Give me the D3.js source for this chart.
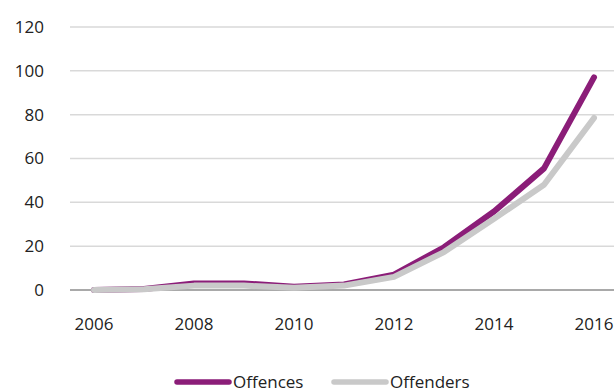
<!DOCTYPE html>
<html>
<head>
<meta charset="utf-8">
<script src="https://cdn.jsdelivr.net/npm/d3@7"></script>
<style>
  body { margin: 0; background: #fff; }
  svg text { font-family: "Open Sans", sans-serif; fill: #222; }
</style>
</head>
<body>
<div id="chart"></div>
<script>
// data
var years = [2006, 2007, 2008, 2009, 2010, 2011, 2012, 2013, 2014, 2015, 2016];
var offences = [0, 0.5, 3, 3, 1.5, 2.5, 7, 19.5, 35.8, 55.5, 97];
var offenders = [0, 0.3, 2, 2, 1, 2, 6, 17.3, 32.5, 48, 78.5];
var yTicks = [0, 20, 40, 60, 80, 100, 120];
var xTicks = [2006, 2008, 2010, 2012, 2014, 2016];

var series = [
  { name: "Offences", values: offences, color: "#8b1d78" },
  { name: "Offenders", values: offenders, color: "#c9c9c9" }
];

var svg = d3.select("#chart").append("svg").attr("width", 614).attr("height", 392);

// scales
var x = d3.scaleLinear().domain([2006, 2016]).range([94, 594]);
var y = d3.scaleLinear().domain([0, 120]).range([290, 27]);

// gridlines
svg.append("g")
  .selectAll("line")
  .data(yTicks.filter(function(d) { return d > 0; }))
  .enter()
  .append("line")
    .attr("x1", 70).attr("x2", 614)
    .attr("y1", function(d) { return y(d); })
    .attr("y2", function(d) { return y(d); })
    .attr("stroke", "#d9d9d9")
    .attr("stroke-width", 1.5);

// baseline
svg.append("line")
  .attr("x1", 70).attr("x2", 614)
  .attr("y1", y(0)).attr("y2", y(0))
  .attr("stroke", "#8c8c8c")
  .attr("stroke-width", 1.5);

// y labels
svg.append("g")
  .selectAll("text")
  .data(yTicks)
  .enter()
  .append("text")
    .attr("x", 44)
    .attr("y", function(d) { return y(d); })
    .attr("dy", "0.35em")
    .attr("text-anchor", "end")
    .style("font-size", "17px")
    .text(function(d) { return d; });

// x labels
svg.append("g")
  .selectAll("text")
  .data(xTicks)
  .enter()
  .append("text")
    .attr("x", function(d) { return x(d); })
    .attr("y", 330)
    .attr("text-anchor", "middle")
    .style("font-size", "17px")
    .text(function(d) { return d; });

var line = d3.line()
  .x(function(d, i) { return x(years[i]); })
  .y(function(d) { return y(d); });

// offenders is drawn over offences, as in the original
svg.append("g")
  .selectAll("path")
  .data(series)
  .enter()
  .append("path")
    .attr("d", function(d) { return line(d.values); })
    .attr("fill", "none")
    .attr("stroke", function(d) { return d.color; })
    .attr("stroke-width", 6)
    .attr("stroke-linecap", "round")
    .attr("stroke-linejoin", "round");

// legend
var legendX = [175, 332];
var lg = svg.append("g")
  .selectAll("g")
  .data(series)
  .enter()
  .append("g")
    .attr("transform", function(d, i) { return "translate(" + legendX[i] + ",382)"; });

lg.append("line")
  .attr("x1", 2).attr("x2", 54)
  .attr("stroke", function(d) { return d.color; })
  .attr("stroke-width", 5.5)
  .attr("stroke-linecap", "round");

lg.append("text")
  .attr("x", 58)
  .attr("dy", "0.35em")
  .style("font-size", "17px")
  .text(function(d) { return d.name; });
</script>
</body>
</html>
